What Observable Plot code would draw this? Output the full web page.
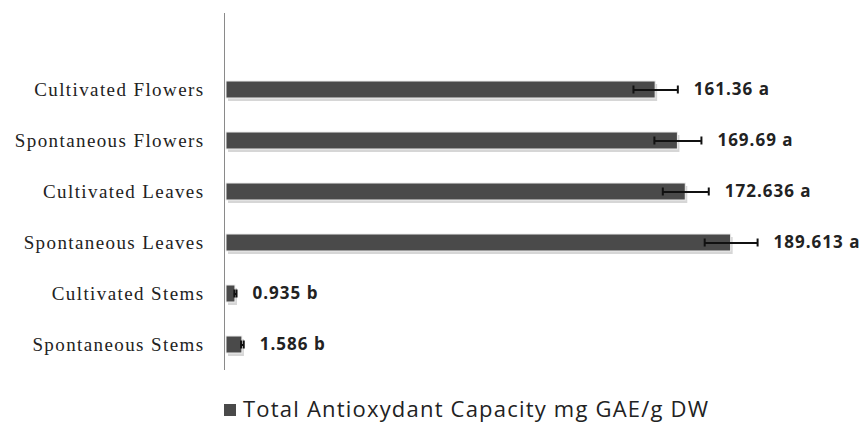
<!DOCTYPE html>
<html>
<head>
<meta charset="utf-8">
<script src="https://cdn.jsdelivr.net/npm/d3@7"></script>
<script src="https://cdn.jsdelivr.net/npm/@observablehq/plot@0.6"></script>
<style>
  html, body { margin: 0; padding: 0; background: #fff; overflow: hidden; }
  #chart { width: 862px; }
  .legend { height: 40px; position: relative; font-family: "Open Sans", sans-serif; font-size: 22px; letter-spacing: 1.2px; color: #222; }
  .legend .sw { position: absolute; left: 224px; top: 19px; width: 12px; height: 12px; background: #4a4a4a; }
  .legend .tx { position: absolute; left: 243px; top: 8px; line-height: 30px; white-space: nowrap; }
</style>
</head>
<body>
<div id="chart"></div>
<script>
const categories = ["Cultivated Flowers", "Spontaneous Flowers", "Cultivated Leaves", "Spontaneous Leaves", "Cultivated Stems", "Spontaneous Stems"];
// bar lengths as drawn in the picture
const values = [161.36, 169.69, 172.636, 189.613, 4.1, 6.7];
const errors = [8.3, 8.8, 8.6, 9.9, 0.4, 0.5];
const valueLabels = ["161.36 a", "169.69 a", "172.636 a", "189.613 a", "0.935 b", "1.586 b"];
const legendLabel = "Total Antioxydant Capacity mg GAE/g DW";

const data = categories.map((c, i) => ({
  cat: c, v: values[i], lo: values[i] - errors[i], hi: values[i] + errors[i], label: valueLabels[i]
}));

const barColor = "#4a4a4a";

const chart = Plot.plot({
  width: 862,
  height: 385,
  marginTop: 13,
  marginBottom: 15,
  marginLeft: 224,
  marginRight: 0,
  x: { domain: [0, 240], range: [224, 224 + 2.672 * 240], axis: null },
  y: { domain: categories, range: [64.5, 370.5], paddingInner: 0.66, paddingOuter: 0.33, align: 0.5, label: null },
  marks: [
    Plot.barX(data, { x: "v", y: "cat", fill: "#d6d6d6", dx: 2, dy: 3, insetLeft: 2 }),
    Plot.barX(data, { x: "v", y: "cat", fill: barColor, stroke: "#eeeeee", strokeWidth: 1, insetLeft: 2 }),
    Plot.ruleY(data, { x1: "lo", x2: "hi", y: "cat", stroke: "#111", strokeWidth: 2 }),
    Plot.tickX(data, { x: "lo", y: "cat", stroke: "#111", strokeWidth: 2, insetTop: 4.5, insetBottom: 4.5 }),
    Plot.tickX(data, { x: "hi", y: "cat", stroke: "#111", strokeWidth: 2, insetTop: 4.5, insetBottom: 4.5 }),
    Plot.text(data, { x: "hi", y: "cat", text: "label", textAnchor: "start", dx: 16,
      fontFamily: "Open Sans", fontWeight: 700, fontSize: 17, fill: "#222" }),
    Plot.ruleX([0], { stroke: "#8a8a8a", strokeWidth: 1 }),
    Plot.axisY({ tickSize: 0, tickPadding: 20, fontFamily: "Liberation Serif", fontSize: 19, fill: "#222", label: null })
  ],
  style: { fontFamily: "Liberation Serif", background: "#fff", overflow: "visible" }
});
document.getElementById("chart").appendChild(chart);

d3.select(chart).selectAll('g[aria-label="y-axis tick label"] text')
  .style("font-size", "19px").style("letter-spacing", "1.4px");
d3.select(chart).selectAll('g[aria-label="text"] text')
  .style("letter-spacing", "1px");

const leg = document.createElement("div");
leg.className = "legend";
leg.innerHTML = '<span class="sw"></span><span class="tx"></span>';
leg.querySelector(".tx").textContent = legendLabel;
document.getElementById("chart").appendChild(leg);
</script>
</body>
</html>
